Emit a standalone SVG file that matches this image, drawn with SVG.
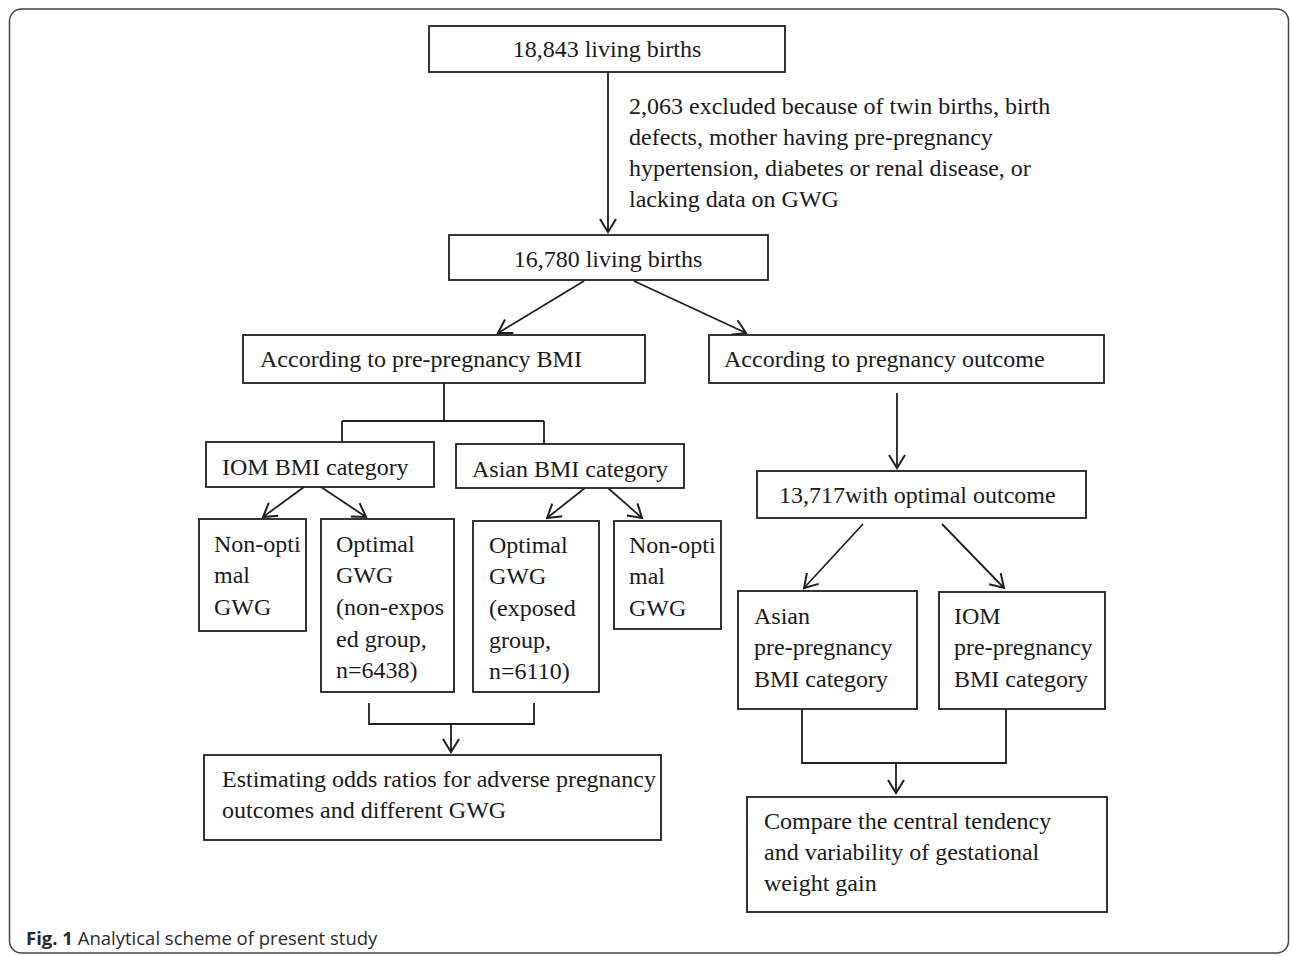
<svg xmlns="http://www.w3.org/2000/svg" width="1292" height="956" viewBox="0 0 1292 956">
<style>
.bx{fill:#fff;stroke:#231f20;stroke-width:1.8}
.t{font-family:"Liberation Serif","Times New Roman",serif;font-size:24px;fill:#1a1a1a}
.ln{fill:none;stroke:#231f20;stroke-width:1.8}
.ar{fill:none;stroke:#231f20;stroke-width:1.8;marker-end:url(#ah)}
.cap{font-family:"Open Sans","Liberation Sans",sans-serif;font-size:18.5px;fill:#2a2a2a}
</style>
<defs>
<marker id="ah" viewBox="-16 -10 18 20" markerWidth="18" markerHeight="20" refX="0" refY="0" orient="auto" markerUnits="userSpaceOnUse">
<path d="M-13,-8 L0,0 L-13,8" fill="none" stroke="#231f20" stroke-width="2"/>
</marker>
</defs>
<rect x="9.5" y="9" width="1279" height="944" rx="12" fill="#fff" stroke="#444" stroke-width="1.5"/>
<g id="connectors">
<path class="ar" d="M608,72 L608,232"/>
<path class="ar" d="M584,281 L498,333"/>
<path class="ar" d="M634,281 L746,333"/>
<path class="ar" d="M897,393 L897,468"/>
<path class="ar" d="M304,487 L263,517"/>
<path class="ar" d="M321,487 L366,517"/>
<path class="ar" d="M585,488 L547,518"/>
<path class="ar" d="M608,488 L642,518"/>
<path class="ar" d="M863,524 L804,588"/>
<path class="ar" d="M942,524 L1004,588"/>
<path class="ar" d="M451,724 L451,752"/>
<path class="ar" d="M896,763 L896,793"/>
<path class="ln" d="M444,383 L444,421 M342,421 L544,421 M342,421 L342,442 M544,421 L544,444"/>
<path class="ln" d="M369,703 L369,724 L534,724 L534,703"/>
<path class="ln" d="M802,709 L802,763 L1006,763 L1006,709"/>
</g>
<g id="n1"><rect class="bx" x="429" y="26" width="356" height="46"/><text class="t" x="607" y="57" text-anchor="middle">18,843 living births</text></g>
<g id="excl"><text class="t" x="629" y="114">2,063 excluded because of twin births, birth</text><text class="t" x="629" y="145">defects, mother having pre-pregnancy</text><text class="t" x="629" y="176">hypertension, diabetes or renal disease, or</text><text class="t" x="629" y="207">lacking data on GWG</text></g>
<g id="n2"><rect class="bx" x="449" y="235" width="319" height="45"/><text class="t" x="608" y="267" text-anchor="middle">16,780 living births</text></g>
<g id="n3"><rect class="bx" x="243" y="335" width="402" height="48"/><text class="t" x="260" y="367">According to pre-pregnancy BMI</text></g>
<g id="n4"><rect class="bx" x="709" y="335" width="395" height="48"/><text class="t" x="724" y="367">According to pregnancy outcome</text></g>
<g id="n5"><rect class="bx" x="206" y="442" width="228" height="45"/><text class="t" x="222" y="475">IOM BMI category</text></g>
<g id="n6"><rect class="bx" x="456" y="444" width="228" height="44"/><text class="t" x="472" y="477">Asian BMI category</text></g>
<g id="n7"><rect class="bx" x="199" y="519" width="107" height="112"/><text class="t" x="214" y="552">Non-opti</text><text class="t" x="214" y="583">mal</text><text class="t" x="214" y="615">GWG</text></g>
<g id="n8"><rect class="bx" x="321" y="519" width="133" height="173"/><text class="t" x="336" y="552">Optimal</text><text class="t" x="336" y="583">GWG</text><text class="t" x="336" y="615">(non-expos</text><text class="t" x="336" y="647">ed group,</text><text class="t" x="336" y="678">n=6438)</text></g>
<g id="n9"><rect class="bx" x="473" y="521" width="126" height="171"/><text class="t" x="489" y="553">Optimal</text><text class="t" x="489" y="584">GWG</text><text class="t" x="489" y="616">(exposed</text><text class="t" x="489" y="648">group,</text><text class="t" x="489" y="679">n=6110)</text></g>
<g id="n10"><rect class="bx" x="614" y="521" width="107" height="108"/><text class="t" x="629" y="553">Non-opti</text><text class="t" x="629" y="584">mal</text><text class="t" x="629" y="616">GWG</text></g>
<g id="n11"><rect class="bx" x="204" y="755" width="457" height="85"/><text class="t" x="222" y="787">Estimating odds ratios for adverse pregnancy</text><text class="t" x="222" y="818">outcomes and different GWG</text></g>
<g id="n12"><rect class="bx" x="757" y="471" width="329" height="47"/><text class="t" x="779" y="503">13,717with optimal outcome</text></g>
<g id="n13"><rect class="bx" x="738" y="591" width="179" height="118"/><text class="t" x="754" y="624">Asian</text><text class="t" x="754" y="655">pre-pregnancy</text><text class="t" x="754" y="687">BMI category</text></g>
<g id="n14"><rect class="bx" x="939" y="592" width="166" height="117"/><text class="t" x="954" y="624">IOM</text><text class="t" x="954" y="655">pre-pregnancy</text><text class="t" x="954" y="687">BMI category</text></g>
<g id="n15"><rect class="bx" x="747" y="797" width="360" height="115"/><text class="t" x="764" y="829">Compare the central tendency</text><text class="t" x="764" y="860">and variability of gestational</text><text class="t" x="764" y="891">weight gain</text></g>
<g id="caption"><text class="cap" x="26" y="945"><tspan font-weight="bold">Fig. 1</tspan> Analytical scheme of present study</text></g>
</svg>
